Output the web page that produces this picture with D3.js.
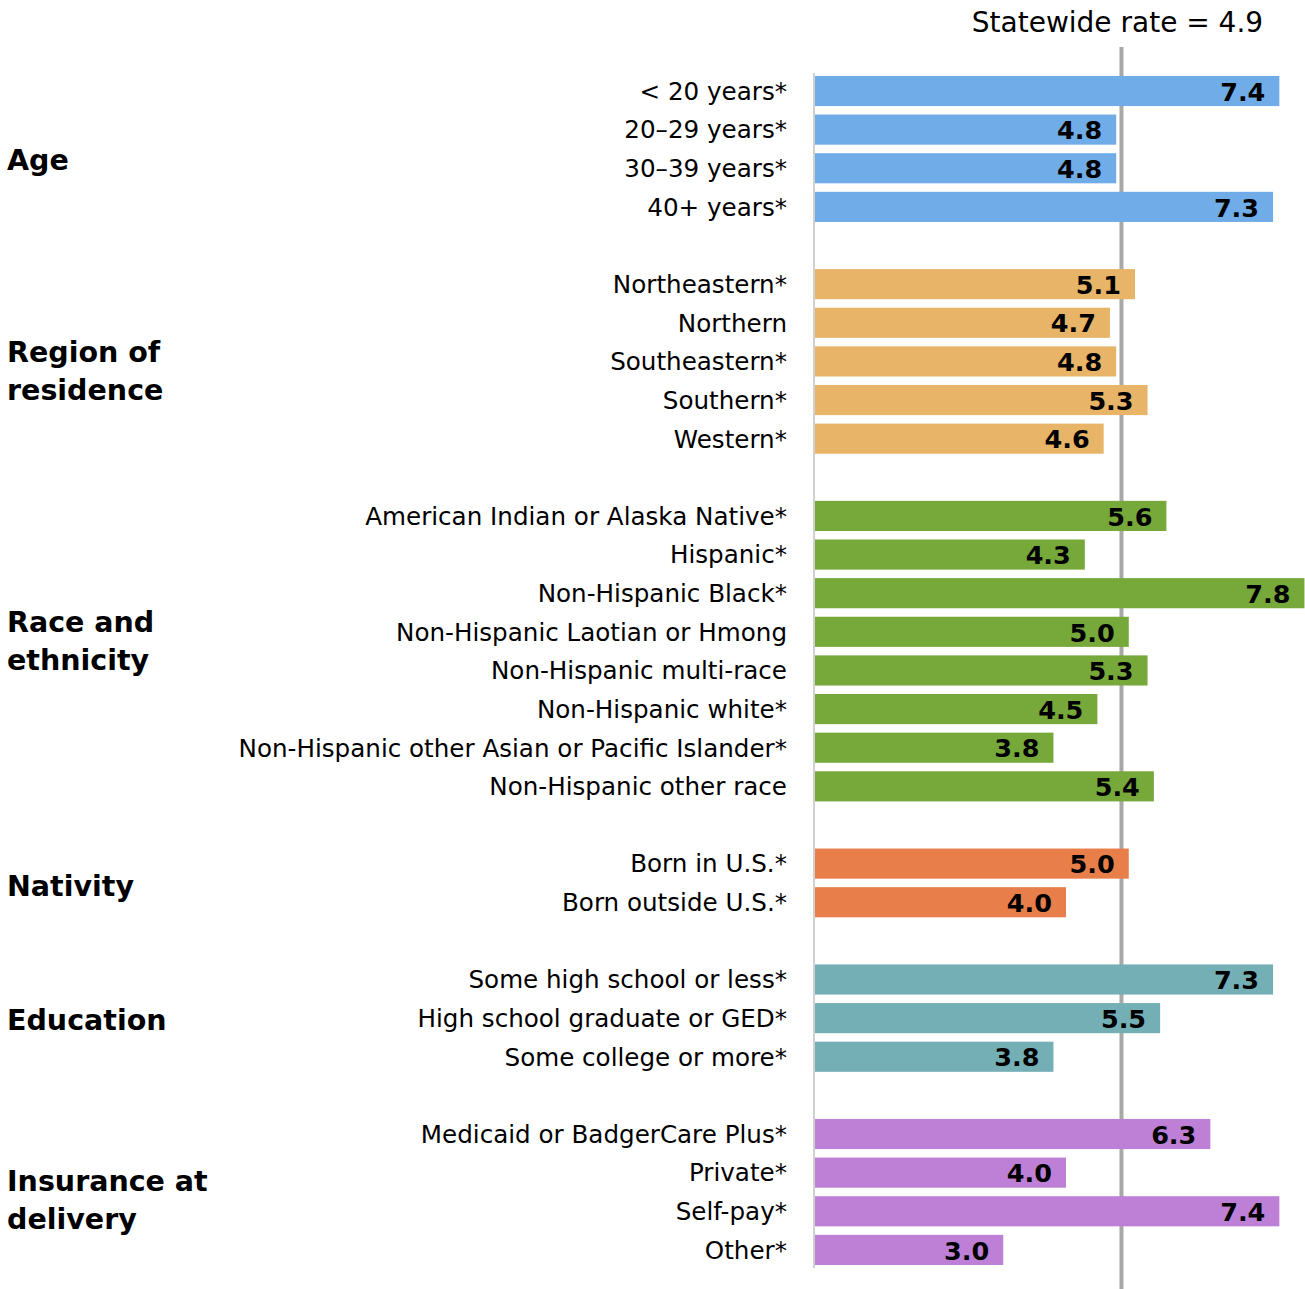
<!DOCTYPE html>
<html>
<head>
<meta charset="utf-8">
<script src="https://cdn.jsdelivr.net/npm/d3@7"></script>
<style>
  body { margin: 0; background: white; }
  svg { display: block; font-family: "DejaVu Sans", Verdana, sans-serif; }
</style>
</head>
<body>
<svg id="chart" width="1305" height="1289"></svg>
<script>
// data
const groups = ["Age", "Region of residence", "Race and ethnicity", "Nativity", "Education", "Insurance at delivery"];
const groupLines = [["Age"], ["Region of", "residence"], ["Race and", "ethnicity"], ["Nativity"], ["Education"], ["Insurance at", "delivery"]];
const groupColors = ["#70ace8", "#e8b468", "#76a83a", "#e87e4a", "#74afb5", "#be80d6"];

const ageLabels = ["< 20 years*", "20\u201329 years*", "30\u201339 years*", "40+ years*"];
const ageValues = [7.4, 4.8, 4.8, 7.3];
const regionLabels = ["Northeastern*", "Northern", "Southeastern*", "Southern*", "Western*"];
const regionValues = [5.1, 4.7, 4.8, 5.3, 4.6];
const raceLabels = ["American Indian or Alaska Native*", "Hispanic*", "Non-Hispanic Black*", "Non-Hispanic Laotian or Hmong",
    "Non-Hispanic multi-race", "Non-Hispanic white*", "Non-Hispanic other Asian or Pacific Islander*", "Non-Hispanic other race"];
const raceValues = [5.6, 4.3, 7.8, 5.0, 5.3, 4.5, 3.8, 5.4];
const nativityLabels = ["Born in U.S.*", "Born outside U.S.*"];
const nativityValues = [5.0, 4.0];
const educationLabels = ["Some high school or less*", "High school graduate or GED*", "Some college or more*"];
const educationValues = [7.3, 5.5, 3.8];
const insuranceLabels = ["Medicaid or BadgerCare Plus*", "Private*", "Self-pay*", "Other*"];
const insuranceValues = [6.3, 4.0, 7.4, 3.0];

const statewideRate = 4.9;

const groupLabelSets = [ageLabels, regionLabels, raceLabels, nativityLabels, educationLabels, insuranceLabels];
const groupValueSets = [ageValues, regionValues, raceValues, nativityValues, educationValues, insuranceValues];

// small vertical nudges for the group headings (layout only)
const headingNudge = [11, 9, -10, 3, 2, 8];

// build rows with a blank row between groups
const rows = [];
groupLabelSets.forEach((labels, gi) => {
    if (gi > 0) rows.push({ key: "gap" + gi, blank: true });
    labels.forEach((label, i) => {
        rows.push({ key: label, label: label, value: groupValueSets[gi][i], group: gi });
    });
});

const svg = d3.select("#chart");

const xZero = 814;
const pxPerUnit = 62.75;
const x = d3.scaleLinear().domain([0, 1]).range([xZero, xZero + pxPerUnit]);

const rowStep = 38.63;
const y = d3.scaleBand()
    .domain(rows.map(d => d.key))
    .range([91 - rowStep / 2, 91 - rowStep / 2 + rowStep * rows.length])
    .paddingInner(0.22)
    .paddingOuter(0.11);

const dataRows = rows.filter(d => !d.blank);

// baseline
svg.append("line")
    .attr("x1", x(0)).attr("x2", x(0))
    .attr("y1", 73).attr("y2", 1268)
    .attr("stroke", "#d0d0d0").attr("stroke-width", 2);

// statewide line (sits behind the bars)
svg.append("line")
    .attr("x1", x(statewideRate)).attr("x2", x(statewideRate))
    .attr("y1", 47).attr("y2", 1289)
    .attr("stroke", "#a8a8a8").attr("stroke-width", 4);

svg.append("text")
    .attr("x", x(statewideRate) - 4)
    .attr("y", 32)
    .attr("text-anchor", "middle")
    .attr("font-size", 28)
    .attr("fill", "#000")
    .text(`Statewide rate = ${statewideRate}`);

// bars
svg.append("g")
    .selectAll("rect")
    .data(dataRows)
    .join("rect")
    .attr("x", x(0) + 1)
    .attr("y", d => y(d.key))
    .attr("width", d => x(d.value) - x(0))
    .attr("height", y.bandwidth())
    .attr("fill", d => groupColors[d.group]);

// value labels
svg.append("g")
    .selectAll("text")
    .data(dataRows)
    .join("text")
    .attr("x", d => x(d.value) - 13)
    .attr("y", d => y(d.key) + y.bandwidth() / 2)
    .attr("dy", "0.38em")
    .attr("text-anchor", "end")
    .attr("font-size", 25.5)
    .attr("font-weight", "bold")
    .attr("fill", "#000")
    .text(d => d3.format(".1f")(d.value));

// category labels
svg.append("g")
    .selectAll("text")
    .data(dataRows)
    .join("text")
    .attr("x", 787)
    .attr("y", d => y(d.key) + y.bandwidth() / 2)
    .attr("dy", "0.36em")
    .attr("text-anchor", "end")
    .attr("font-size", 24.6)
    .attr("fill", "#000")
    .text(d => d.label);

// group labels
groups.forEach((g, gi) => {
    const keys = groupLabelSets[gi];
    const top = y(keys[0]);
    const bottom = y(keys[keys.length - 1]) + y.bandwidth();
    const mid = (top + bottom) / 2 + headingNudge[gi];
    const lines = groupLines[gi];
    const lh = 38;
    const t = svg.append("text")
        .attr("x", 7)
        .attr("font-size", 28.5)
        .attr("font-weight", "bold")
        .attr("fill", "#000");
    lines.forEach((ln, i) => {
        t.append("tspan")
            .attr("x", 7)
            .attr("y", mid + (i - (lines.length - 1) / 2) * lh)
            .attr("dy", "0.36em")
            .text(ln);
    });
});
</script>
</body>
</html>
